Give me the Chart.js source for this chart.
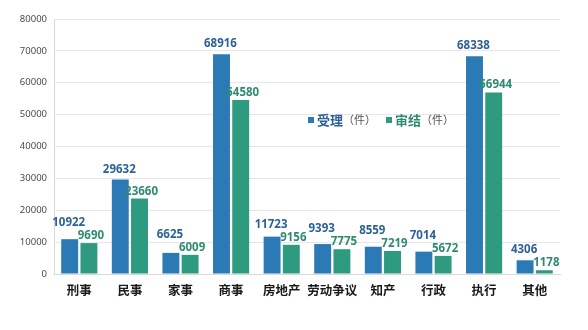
<!DOCTYPE html>
<html>
<head>
<meta charset="utf-8">
<script src="https://cdn.jsdelivr.net/npm/chart.js@4.4.1/dist/chart.umd.min.js"></script>
<style>
  html, body { margin: 0; padding: 0; background: #fff; }
  #wrap { width: 588px; height: 330px; position: relative; }
</style>
</head>
<body>
<div id="wrap"><canvas id="caseChart"></canvas></div>
<script>
// categories and case counts
var categories = ["刑事", "民事", "家事", "商事", "房地产", "劳动争议", "知产", "行政", "执行", "其他"];
var accepted = [10922, 29632, 6625, 68916, 11723, 9393, 8559, 7014, 68338, 4306];
var concluded = [9690, 23660, 6009, 54580, 9156, 7775, 7219, 5672, 56944, 1178];
var seriesNames = ["受理", "审结"];
var unitText = "（件）";

var blue = "#2b79b5";
var green = "#2e9a80";
var blueText = "#2d6296";
var greenText = "#2f8b6f";

// value labels above each bar; the blue one is lifted when it would hit the green one
var valueLabels = {
  id: "valueLabels",
  afterDatasetsDraw: function (chart) {
    var ctx = chart.ctx;
    var textH = 10;
    ctx.save();
    ctx.font = "bold 11.5px 'Noto Sans'";
    ctx.textAlign = "center";
    ctx.textBaseline = "alphabetic";
    var blueBars = chart.getDatasetMeta(0).data;
    var greenBars = chart.getDatasetMeta(1).data;
    greenBars.forEach(function (bar, j) {
      ctx.fillStyle = greenText;
      ctx.fillText(concluded[j], bar.x + 2, bar.y - 4);
      var b = blueBars[j];
      var by = Math.min(b.y - 7, bar.y - 4 - textH - 3);
      ctx.fillStyle = blueText;
      ctx.fillText(accepted[j], b.x - 1, by);
    });
    ctx.restore();
  }
};

// legend drawn inside the plot area
var innerLegend = {
  id: "innerLegend",
  afterDraw: function (chart) {
    var ctx = chart.ctx;
    var x = 308, y = 120;
    ctx.save();
    ctx.textBaseline = "middle";
    var colors = [blue, green];
    var textColors = [blueText, greenText];
    seriesNames.forEach(function (name, i) {
      ctx.fillStyle = colors[i];
      ctx.fillRect(x, y - 3, 6, 6);
      x += 9;
      ctx.font = "bold 13px 'Noto Sans CJK SC'";
      ctx.fillStyle = textColors[i];
      ctx.fillText(name, x, y);
      x += ctx.measureText(name).width;
      ctx.font = "11px 'Noto Sans CJK SC'";
      ctx.fillStyle = "#555";
      ctx.fillText(unitText, x, y);
      x += ctx.measureText(unitText).width + 10;
    });
    ctx.restore();
  }
};

new Chart(document.getElementById("caseChart"), {
  type: "bar",
  data: {
    labels: categories,
    datasets: [
      { label: seriesNames[0], data: accepted, backgroundColor: blue },
      { label: seriesNames[1], data: concluded, backgroundColor: green }
    ]
  },
  options: {
    responsive: true,
    maintainAspectRatio: false,
    animation: false,
    layout: { padding: { top: 19, right: 28, left: 0, bottom: 0 } },
    datasets: { bar: { categoryPercentage: 0.76, barPercentage: 0.88 } },
    plugins: {
      legend: { display: false },
      tooltip: { enabled: false }
    },
    scales: {
      x: {
        grid: { display: false, drawTicks: false },
        border: { color: "#d9d9d9" },
        ticks: {
          padding: 9,
          color: "#1a1a1a",
          maxRotation: 0,
          minRotation: 0,
          autoSkip: false,
          font: { family: "'Noto Sans CJK SC'", size: 12.5, weight: "bold" }
        },
        afterFit: function (scale) { scale.height = 56; }
      },
      y: {
        min: 0,
        max: 80000,
        grid: { color: "#e8e8e8", drawTicks: false },
        border: { color: "#d9d9d9" },
        ticks: {
          stepSize: 10000,
          padding: 7,
          color: "#4a4a4a",
          font: { family: "'Noto Sans'", size: 9.5 },
          callback: function (v) { return String(v); }
        },
        afterFit: function (scale) { scale.width = 54; }
      }
    }
  },
  plugins: [valueLabels, innerLegend]
});
</script>
</body>
</html>
